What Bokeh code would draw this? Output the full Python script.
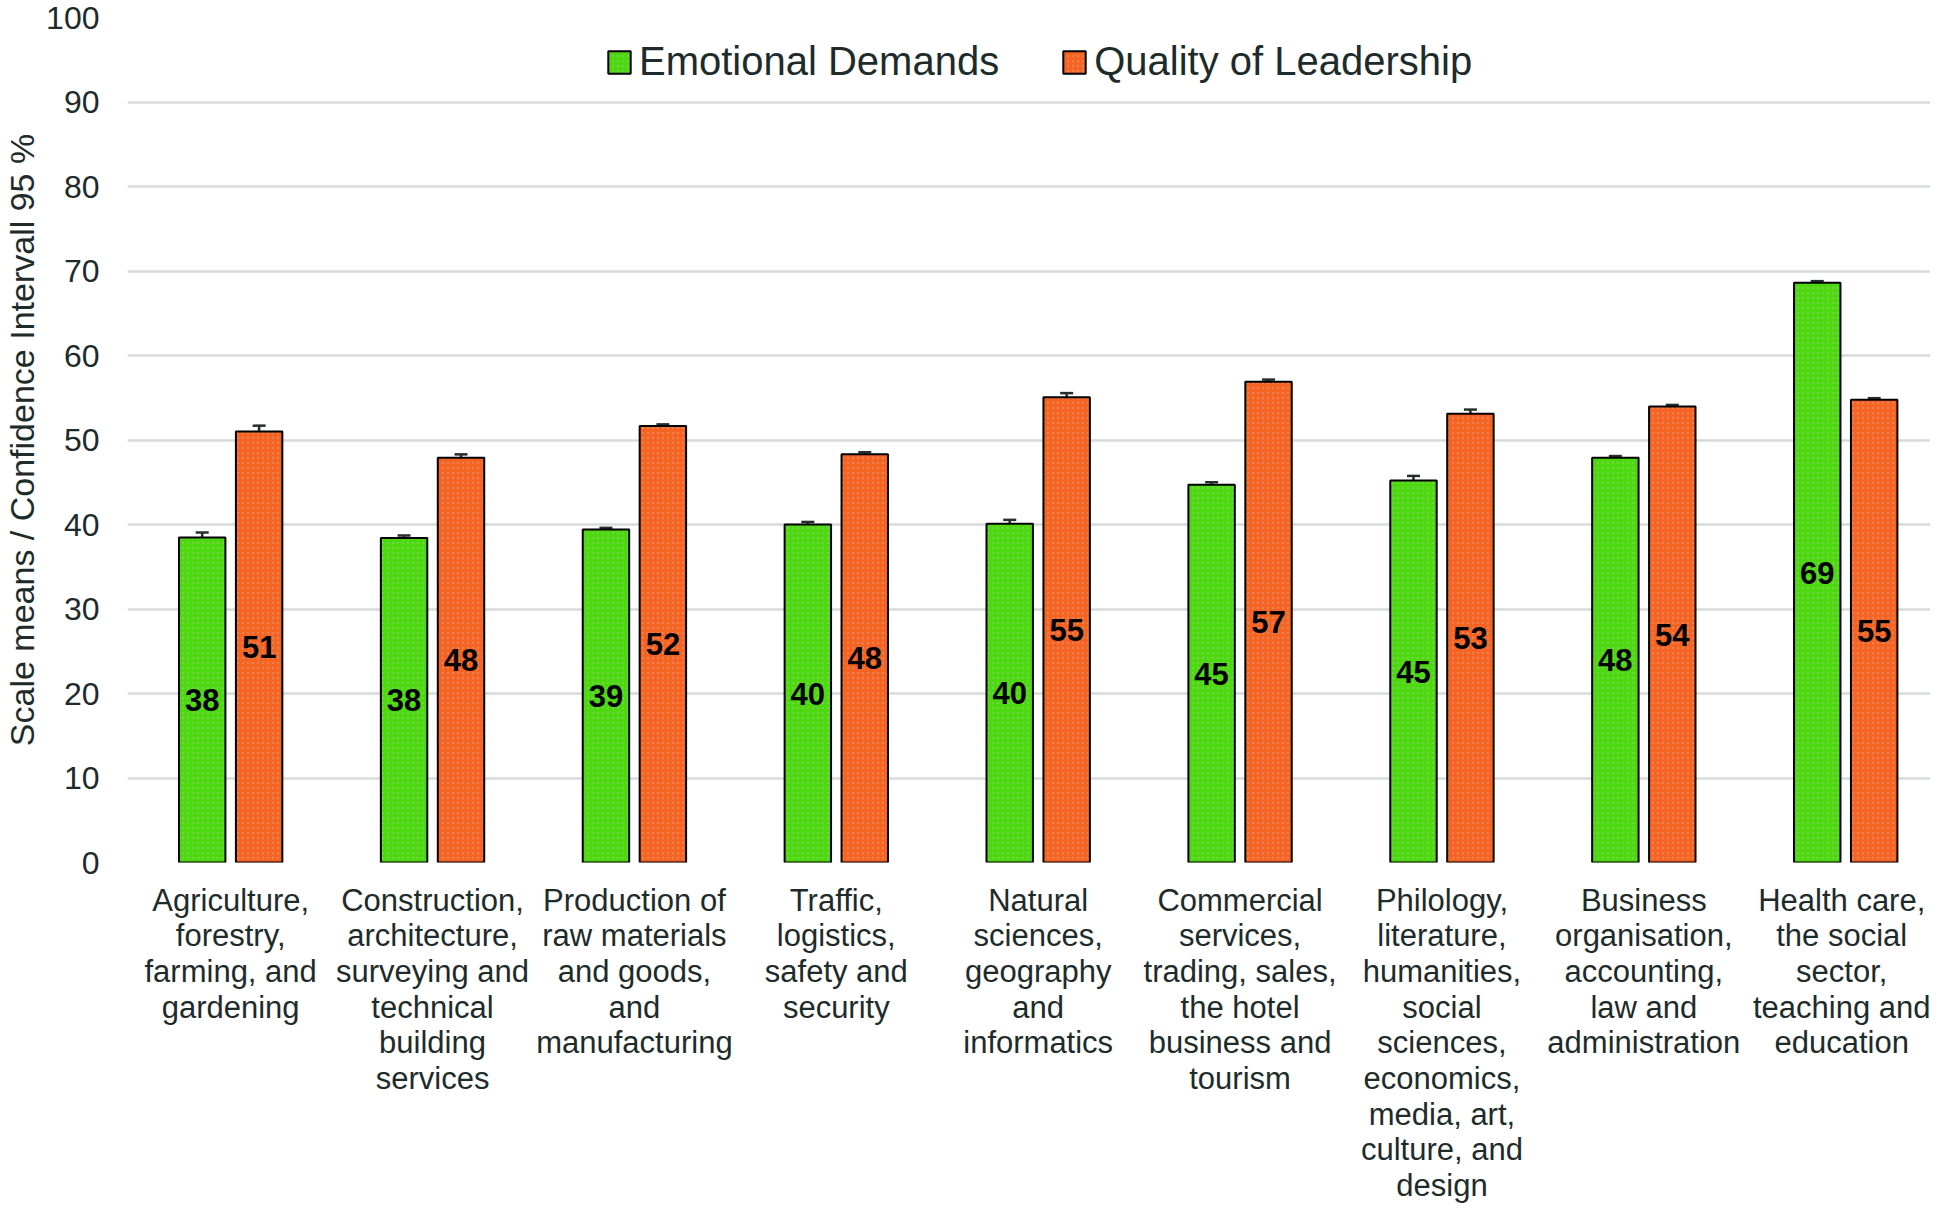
from bokeh.plotting import figure
from bokeh.models import ColumnDataSource, FixedTicker, Whisker, Legend, LegendItem, Range1d
from bokeh.transform import dodge
from bokeh.core.properties import value
from bokeh.embed import file_html
from bokeh.resources import INLINE

categories = [
    "Agriculture,\nforestry,\nfarming, and\ngardening",
    "Construction,\narchitecture,\nsurveying and\ntechnical\nbuilding\nservices",
    "Production of\nraw materials\nand goods,\nand\nmanufacturing",
    "Traffic,\nlogistics,\nsafety and\nsecurity",
    "Natural\nsciences,\ngeography\nand\ninformatics",
    "Commercial\nservices,\ntrading, sales,\nthe hotel\nbusiness and\ntourism",
    "Philology,\nliterature,\nhumanities,\nsocial\nsciences,\neconomics,\nmedia, art,\nculture, and\ndesign",
    "Business\norganisation,\naccounting,\nlaw and\nadministration",
    "Health care,\nthe social\nsector,\nteaching and\neducation",
]
series_names = ["Emotional Demands", "Quality of Leadership"]
emotional = [38.45, 38.4, 39.4, 40.0, 40.1, 44.7, 45.2, 47.9, 68.6]
emotional_ci = [0.6, 0.3, 0.2, 0.3, 0.45, 0.3, 0.55, 0.2, 0.2]
leadership = [51.0, 47.9, 51.65, 48.3, 55.05, 56.9, 53.1, 53.95, 54.75]
leadership_ci = [0.7, 0.4, 0.2, 0.25, 0.5, 0.25, 0.5, 0.2, 0.2]
y_ticks = [0, 10, 20, 30, 40, 50, 60, 70, 80, 90, 100]

FONT = "Liberation Sans"
TXT = "#1e2b2b"
GREEN = "#4cd90e"
ORANGE = "#f76321"
OFF = 0.141
BW = 0.23

xs = list(range(1, len(categories) + 1))
src = ColumnDataSource(dict(
    x=xs,
    emo=emotional,
    emo_lo=[v - c for v, c in zip(emotional, emotional_ci)],
    emo_hi=[v + c for v, c in zip(emotional, emotional_ci)],
    emo_mid=[v / 2 for v in emotional],
    emo_txt=[str(round(v)) for v in emotional],
    lead=leadership,
    lead_lo=[v - c for v, c in zip(leadership, leadership_ci)],
    lead_hi=[v + c for v, c in zip(leadership, leadership_ci)],
    lead_mid=[v / 2 for v in leadership],
    lead_txt=[str(round(v)) for v in leadership],
))

p = figure(width=1930, height=1206, output_backend="svg", toolbar_location=None,
           x_range=Range1d(0.489, 9.42), y_range=Range1d(0, 100),
           min_border_left=118, min_border_right=0, min_border_top=17, min_border_bottom=4)
p.outline_line_color = None
p.background_fill_color = "white"
p.border_fill_color = "white"

r1 = p.vbar(x=dodge("x", -OFF), top="emo", width=BW, source=src,
            fill_color=GREEN, line_color="black", line_width=2,
            hatch_pattern="dot", hatch_color="#c8c8c8", hatch_alpha=0.3, hatch_scale=5, hatch_weight=1)
r2 = p.vbar(x=dodge("x", OFF), top="lead", width=BW, source=src,
            fill_color=ORANGE, line_color="black", line_width=2,
            hatch_pattern="dot", hatch_color="#c8c8c8", hatch_alpha=0.3, hatch_scale=5, hatch_weight=1)

for base, lo, hi in [(dodge("x", -OFF), "emo_lo", "emo_hi"), (dodge("x", OFF), "lead_lo", "lead_hi")]:
    w = Whisker(source=src, base=base, lower=lo, upper=hi, line_color="#24302f", line_width=2.5)
    w.upper_head.size = 13
    w.lower_head.size = 13
    w.upper_head.line_color = "#24302f"
    w.lower_head.line_color = "#24302f"
    w.upper_head.line_width = 2.5
    w.lower_head.line_width = 2.5
    p.add_layout(w)

p.text(x=dodge("x", -OFF), y="emo_mid", text="emo_txt", source=src,
       text_font=value(FONT), text_font_size="31px", text_font_style="bold",
       text_align="center", text_baseline="middle", text_color="black")
p.text(x=dodge("x", OFF), y="lead_mid", text="lead_txt", source=src,
       text_font=value(FONT), text_font_size="31px", text_font_style="bold",
       text_align="center", text_baseline="middle", text_color="black")

# axes
p.yaxis.ticker = FixedTicker(ticks=y_ticks)
p.yaxis.axis_label = "Scale means / Confidence Intervall 95 %"
p.yaxis.axis_label_text_font = FONT
p.yaxis.axis_label_text_font_size = "34px"
p.yaxis.axis_label_text_font_style = "normal"
p.yaxis.axis_label_text_color = TXT
p.yaxis.axis_label_standoff = 2
p.yaxis.major_label_text_font = FONT
p.yaxis.major_label_text_font_size = "32px"
p.yaxis.major_label_text_color = TXT
p.yaxis.major_label_standoff = 22
p.yaxis.axis_line_color = None
p.yaxis.major_tick_line_color = None
p.yaxis.minor_tick_line_color = None

p.xaxis.ticker = FixedTicker(ticks=xs)
p.xaxis.major_label_overrides = {x: c for x, c in zip(xs, categories)}
p.xaxis.major_label_text_font = FONT
p.xaxis.major_label_text_font_size = "31px"
p.xaxis.major_label_text_line_height = 1.02
p.xaxis.major_label_text_color = TXT
p.xaxis.major_label_standoff = 14
p.xaxis.axis_line_color = None
p.xaxis.major_tick_line_color = None
p.xaxis.minor_tick_line_color = None

p.xgrid.grid_line_color = None
p.ygrid.grid_line_color = "#d5dcda"
p.ygrid.grid_line_width = 2.5

legend = Legend(items=[LegendItem(label=series_names[0], renderers=[r1]),
                       LegendItem(label=series_names[1], renderers=[r2])],
                orientation="horizontal", location=(478, 778),
                glyph_width=28, glyph_height=28, label_standoff=6, spacing=61,
                padding=0, margin=0, border_line_color=None, background_fill_alpha=0,
                label_text_font=FONT, label_text_font_size="40px", label_text_color=TXT,
                label_height=28)
p.add_layout(legend)

open("out.html", "w").write(file_html(p, INLINE))
